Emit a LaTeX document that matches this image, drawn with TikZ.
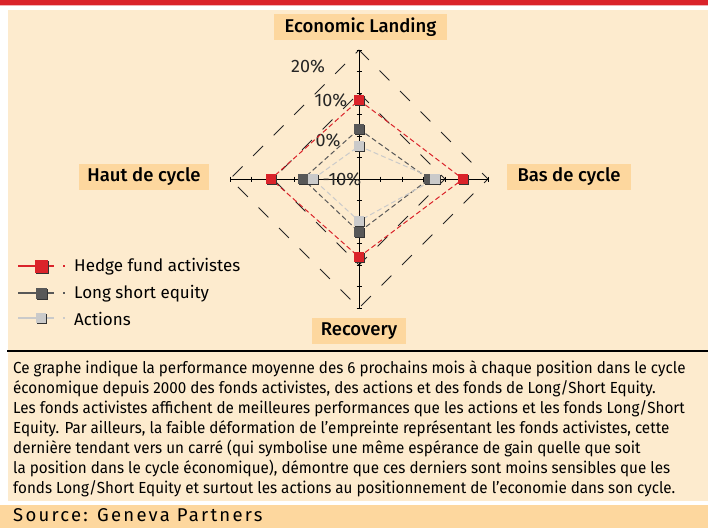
\documentclass[tikz,border=0pt]{standalone}
\usepackage{fontspec}
\setmainfont{Fira Sans}[BoldFont={Fira Sans Medium}]
\newfontfamily\notefont{Fira Sans}[FakeStretch=0.95]
\newfontfamily\srcfont{Fira Sans}[LetterSpace=12]
\usetikzlibrary{positioning}

\definecolor{cream}{RGB}{253,235,206}
\definecolor{tagfill}{RGB}{253,215,158}
\definecolor{hfred}{RGB}{218,35,42}
\definecolor{lsgray}{RGB}{88,88,88}
\definecolor{actgray}{RGB}{202,202,202}

\tikzset{
  tagbox/.style={fill=tagfill, inner sep=0pt, minimum height=26pt,
    font=\fontsize{18.5}{20}\selectfont\bfseries},
  axislbl/.style={inner sep=0pt, text=black!85, font=\fontsize{18}{20}\selectfont},
  sqmark/.style={rectangle, inner sep=0pt, minimum size=#1,
    preaction={fill=black!80, transform canvas={shift={(1.3pt,-1.3pt)}}}},
  sqmark/.default=10pt,
  griddash/.style={black!85, line width=0.8pt, dash pattern=on 14pt off 15pt},
  seriesline/.style={line width=1pt, dash pattern=on 5pt off 3pt},
  legtext/.style={anchor=west, inner sep=0pt, font=\fontsize{17}{19}\selectfont}
}

\begin{document}
\begin{tikzpicture}[x=1pt,y=-1pt]

  \useasboundingbox (0,0) rectangle (708,528);

  % Frame and panels
  \fill[white] (0,0) rectangle (708,528);
  \fill[cream] (8,9.5) rectangle (708,501);
  \fill[hfred] (0,0) rectangle (708,4.5);
  \fill[hfred!35] (0,4.5) rectangle (708,5.8);
  \fill[tagfill] (0,505) rectangle (708,528);
  \draw[line width=2pt] (7,351) -- (708,351);

  \pgfmathsetmacro{\cx}{359}
  \pgfmathsetmacro{\cy}{179}
  \pgfmathsetmacro{\rlimit}{129}
  \pgfmathsetmacro{\tickgap}{\rlimit/6}

  \coordinate (top) at (\cx,\cy-\rlimit);
  \coordinate (bottom) at (\cx,\cy+\rlimit);
  \coordinate (left) at (\cx-\rlimit,\cy);
  \coordinate (right) at (\cx+\rlimit,\cy);

  % Dashed diamonds
  \draw[griddash] (top) -- (right) -- (bottom) -- (left) -- cycle;
  \draw[griddash] (\cx,\cy-4*\tickgap) -- (\cx+4*\tickgap,\cy) -- (\cx,\cy+4*\tickgap) -- (\cx-4*\tickgap,\cy) -- cycle;

  % Axes
  \draw[line width=0.8pt] (left) -- (right);
  \draw[line width=0.8pt] (top) -- (bottom);
  \foreach \k in {-6,...,6}
  {
    \ifnum\k=0{
      % Do nothing
    }
    \else{
      \draw[line width=0.7pt] (\cx+\k*\tickgap,\cy-2.5) -- (\cx+\k*\tickgap,\cy+2.5); % Tick
      \draw[line width=0.7pt] (\cx-2.5,\cy+\k*\tickgap) -- (\cx+2.5,\cy+\k*\tickgap); % Tick
    }
    \fi
  }

  % Scale labels
  \node[axislbl] (p20) at (308,66) {20\%};
  \node[axislbl] (p10) at (331,100) {10\%};
  \node[axislbl] (p0) at (328,140) {0\%};
  \node[axislbl] (m10) at (342,179) {-10\%};

  % Series: top/right/bottom/left distances from the centre
  \foreach \s/\col/\t/\r/\b/\l in {hfa/hfred/79/104/78/88, lse/lsgray/50/70/53/56, act/actgray/33/76/42/46}
  {
    \coordinate (\s T) at (\cx,\cy-\t);
    \coordinate (\s R) at (\cx+\r,\cy);
    \coordinate (\s B) at (\cx,\cy+\b);
    \coordinate (\s L) at (\cx-\l,\cy);
    \draw[seriesline, \col] (\s T) -- (\s R) -- (\s B) -- (\s L) -- cycle;
  }
  \foreach \s/\col in {hfa/hfred, lse/lsgray, act/actgray}
  {
    \foreach \p in {T,R,B,L}
      \node[sqmark, fill=\col] (\s\p m) at (\s\p) {}; % Marked point
  }

  % Cycle positions
  \node[tagbox, minimum width=173pt] (eco) at (360.5,27) {Economic Landing};
  \node[tagbox, minimum width=130pt] (haut) at (144,177) {Haut de cycle};
  \node[tagbox, minimum width=124pt] (bas) at (569,177) {Bas de cycle};
  \node[tagbox, minimum width=94pt] (rec) at (359,331) {Recovery};

  % Legend
  \foreach \s/\col/\yy/\sz/\txt in {hfa/hfred/266/13pt/Hedge fund activistes, lse/lsgray/293/11pt/Long short equity, act/actgray/318/10pt/Actions}
  {
    \coordinate (\s a) at (18,\yy);
    \coordinate (\s b) at (54,\yy);
    \draw[\col, line width=2pt] (\s a) -- (\s b);
    \fill[\col] (63,\yy-1) rectangle (65,\yy+1);
    \node[sqmark=\sz, fill=\col, preaction={fill=none}] (\s sq) at (41,\yy) {};
    \node[legtext] (\s txt) at (74,\yy+1) {\txt};
  }

  % Comment text
  \node[anchor=north west, inner sep=0pt, align=left,
    font=\notefont\fontsize{16}{20}\selectfont] (note) at (13,360)
  {Ce graphe indique la performance moyenne des 6 prochains mois à chaque position dans le cycle\\
   économique depuis 2000 des fonds activistes, des actions et des fonds de Long/Short Equity.\\
   Les fonds activistes affichent de meilleures performances que les actions et les fonds Long/Short\\
   Equity. Par ailleurs, la faible déformation de l’empreinte représentant les fonds activistes, cette\\
   dernière tendant vers un carré (qui symbolise une même espérance de gain quelle que soit\\
   la position dans le cycle économique), démontre que ces derniers sont moins sensibles que les\\
   fonds Long/Short Equity et surtout les actions au positionnement de l’economie dans son cycle.};

  \node[anchor=base west, inner sep=0pt, font=\srcfont\fontsize{18.5}{20}\selectfont] (src) at (13,521) {Source: Geneva Partners};

\end{tikzpicture}
\end{document}
